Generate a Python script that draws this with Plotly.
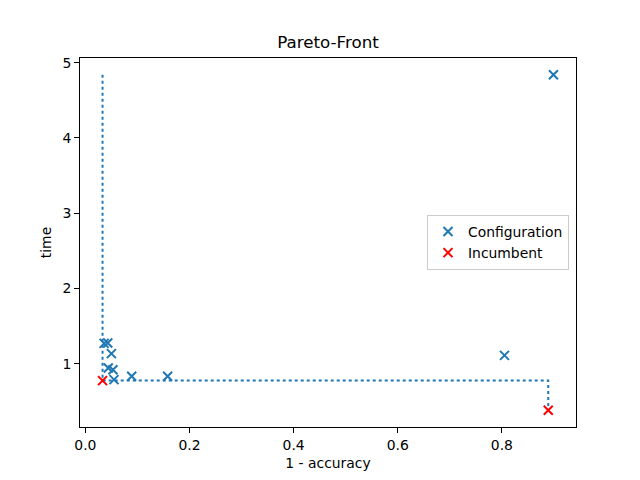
import plotly.graph_objects as go

# Data
config_x = [0.899, 0.805, 0.158, 0.089, 0.036, 0.043, 0.050, 0.044, 0.053, 0.055]
config_y = [4.84, 1.11, 0.832, 0.832, 1.27, 1.275, 1.133, 0.942, 0.920, 0.788]
incumbent_x = [0.033, 0.889]
incumbent_y = [0.775, 0.381]

# Pareto-front step line derived from the incumbents
inc = sorted(zip(incumbent_x, incumbent_y))
all_y = config_y + incumbent_y
front_x = [inc[0][0]]
front_y = [max(all_y)]
for i, (xv, yv) in enumerate(inc):
    front_x.append(xv)
    front_y.append(yv)
    if i + 1 < len(inc):
        front_x.append(inc[i + 1][0])
        front_y.append(yv)

def lim(vals):
    lo, hi = min(vals), max(vals)
    m = 0.05 * (hi - lo)
    return [lo - m, hi + m]

all_x = config_x + incumbent_x
xr = lim(all_x)
yr = lim(all_y)

FONT = "DejaVu Sans"
fig = go.Figure()
fig.add_trace(go.Scatter(x=front_x, y=front_y, mode="lines",
                         line=dict(color="#1f77b4", width=2, dash="dot"),
                         showlegend=False, hoverinfo="skip"))
fig.add_trace(go.Scatter(x=config_x, y=config_y, mode="markers", name="Configuration",
                         marker=dict(symbol="x-thin", size=9, color="#1f77b4",
                                     line=dict(color="#1f77b4", width=2))))
fig.add_trace(go.Scatter(x=incumbent_x, y=incumbent_y, mode="markers", name="Incumbent",
                         marker=dict(symbol="x-thin", size=9, color="red",
                                     line=dict(color="red", width=2))))

axis_common = dict(showline=True, mirror=True, linecolor="black", linewidth=1,
                   ticks="outside", ticklen=5, tickwidth=1, tickcolor="black",
                   showgrid=False, zeroline=False,
                   tickfont=dict(family=FONT, size=13.9, color="black"))

fig.update_layout(
    width=640, height=480,
    margin=dict(l=80, r=64, t=58, b=53),
    paper_bgcolor="white", plot_bgcolor="white",
    font=dict(family=FONT, color="black"),
    title=dict(text="Pareto-Front", x=0.5, xanchor="center", xref="paper",
               y=1 - 42 / 480, yanchor="middle",
               font=dict(family=FONT, size=16.7, color="black")),
    xaxis=dict(range=xr, tickvals=[0.0, 0.2, 0.4, 0.6, 0.8],
               ticktext=["0.0", "0.2", "0.4", "0.6", "0.8"],
               title=dict(text="1 - accuracy", standoff=6,
                          font=dict(family=FONT, size=13.9, color="black")),
               **axis_common),
    yaxis=dict(range=yr, tickvals=[1, 2, 3, 4, 5],
               title=dict(text="time", standoff=7,
                          font=dict(family=FONT, size=13.9, color="black")),
               **axis_common),
    legend=dict(x=1 - 7 / 496, xanchor="right", y=0.5, yanchor="middle",
                bgcolor="white", bordercolor="#cccccc", borderwidth=1,
                font=dict(family=FONT, size=13.9, color="black"),
                itemwidth=30, tracegroupgap=0),
)

fig.write_html("out.html")
